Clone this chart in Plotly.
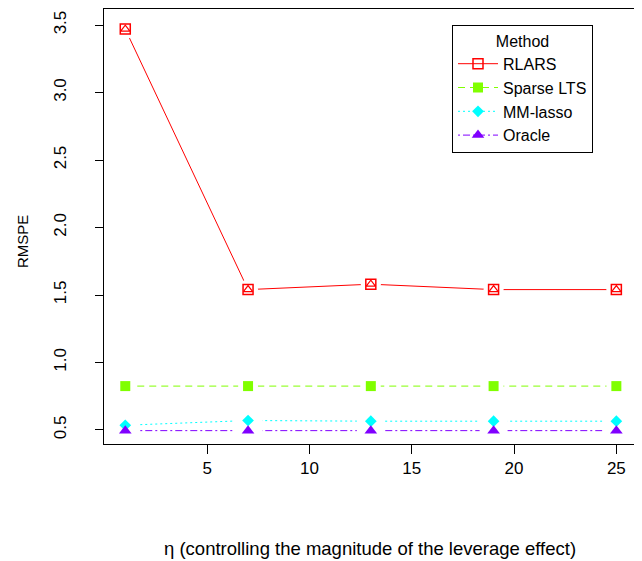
import plotly.graph_objects as go

# ---- data ----
eta = [1, 7, 13, 19, 25]
rlars = [3.47, 1.54, 1.58, 1.54, 1.54]
sparse_lts = [0.825, 0.825, 0.825, 0.825, 0.825]
mm_lasso = [0.535, 0.57, 0.565, 0.565, 0.565]
oracle = [0.495, 0.495, 0.495, 0.495, 0.495]

methods = ["RLARS", "Sparse LTS", "MM-lasso", "Oracle"]
values = [rlars, sparse_lts, mm_lasso, oracle]
colors = ["#FF0000", "#80FF00", "#00FFFF", "#8000FF"]
dashes = ["solid", "7px,5px", "2px,3px", "2px,3px,7px,3px"]
symbols = ["square-open", "square", "diamond", "triangle-up"]
msizes = [10, 10, 9, 11]
gap_symbols = ["circle", "circle", "line-ew", "line-ew"]

yticks = [0.5, 1.0, 1.5, 2.0, 2.5, 3.0, 3.5]
ytick_text = ["0.5", "1.0", "1.5", "2.0", "2.5", "3.0", "3.5"]
xticks = [5, 10, 15, 20, 25]

FONT = "Liberation Sans, Arial, sans-serif"

fig = go.Figure()
for name, vals, col, dash, sym, ms, gsym in zip(methods, values, colors, dashes,
                                                 symbols, msizes, gap_symbols):
    # connecting line
    fig.add_trace(go.Scatter(x=eta, y=vals, mode="lines", showlegend=False,
                             line=dict(color=col, width=1, dash=dash),
                             hoverinfo="skip"))
    # white gaps around points (R type="b")
    if gsym == "circle":
        gm = dict(symbol="circle", size=20, color="white", line=dict(width=0))
    else:
        gm = dict(symbol="line-ew", size=20, color="white",
                  line=dict(width=3, color="white"))
    fig.add_trace(go.Scatter(x=eta, y=vals, mode="markers", showlegend=False,
                             marker=gm, hoverinfo="skip"))
    # point markers
    if sym == "square-open":
        fig.add_trace(go.Scatter(x=eta, y=vals, mode="markers", showlegend=False,
                                 marker=dict(symbol="square-open", size=ms, color=col,
                                             line=dict(width=1.5, color=col))))
        fig.add_trace(go.Scatter(x=eta, y=vals, mode="markers", showlegend=False,
                                 marker=dict(symbol="triangle-up-open", size=8, color=col,
                                             line=dict(width=1.2, color=col))))
    else:
        fig.add_trace(go.Scatter(x=eta, y=vals, mode="markers", showlegend=False,
                                 marker=dict(symbol=sym, size=ms, color=col,
                                             line=dict(width=0))))
    # legend entry
    fig.add_trace(go.Scatter(x=[None], y=[None], mode="lines+markers", name=name,
                             line=dict(color=col, width=1, dash=dash),
                             marker=dict(symbol=sym, size=ms, color=col,
                                         line=dict(width=1.5 if sym == "square-open" else 0,
                                                   color=col))))

# page body has an 8px margin: figure coordinates = page coordinates - 8
fig.update_layout(
    width=634, height=553,
    margin=dict(l=96, r=6, t=1, b=117),
    paper_bgcolor="white", plot_bgcolor="white",
    font=dict(family=FONT, size=17, color="black"),
    showlegend=True,
    legend=dict(
        x=(452 - 104) / 532, xanchor="left",
        y=(444 - 25) / 435, yanchor="top",
        bordercolor="black", borderwidth=1, bgcolor="white",
        font=dict(family=FONT, size=16, color="black"),
        title=dict(text="Method", side="top center",
                   font=dict(family=FONT, size=16, color="black")),
        itemwidth=40, tracegroupgap=0,
    ),
    xaxis=dict(
        range=[-0.04, 25.96], tickvals=xticks, ticks="outside", ticklen=9,
        tickcolor="black", showline=True, mirror=True, linecolor="black",
        linewidth=1, showgrid=False, zeroline=False,
        tickfont=dict(family=FONT, size=17, color="black"),
    ),
    yaxis=dict(
        range=[0.396, 3.619], tickvals=yticks, ticktext=ytick_text,
        ticks="outside", ticklen=8, tickangle=-90, ticklabelstandoff=22,
        tickcolor="black", showline=True, mirror=True, linecolor="black",
        linewidth=1, showgrid=False, zeroline=False,
        tickfont=dict(family=FONT, size=17, color="black"),
    ),
    annotations=[
        dict(text="η (controlling the magnitude of the leverage effect)",
             x=0.5, y=0, xref="paper", yref="paper", xanchor="center",
             yanchor="middle", yshift=-104, showarrow=False,
             font=dict(family=FONT, size=18.5, color="black")),
        dict(text="RMSPE", x=0, y=(444 - 242) / 435, xref="paper", yref="paper",
             xanchor="center", yanchor="middle", xshift=-82, textangle=-90,
             showarrow=False, font=dict(family=FONT, size=15, color="black")),
    ],
)

fig.write_html("out.html")
